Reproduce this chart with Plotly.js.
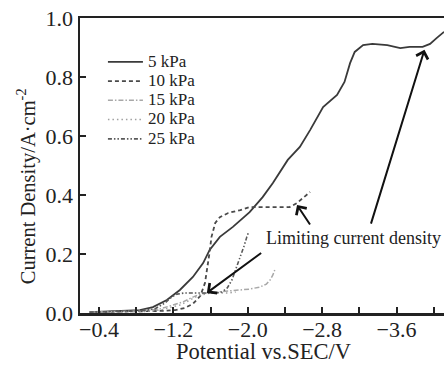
<!DOCTYPE html>
<html>
<head>
<meta charset="utf-8">
<script src="https://cdn.plot.ly/plotly-3.0.1.min.js"></script>
<style>html,body{margin:0;padding:0;background:#fff;}#chart{width:444px;height:365px;}</style>
</head>
<body>
<div id="chart"></div>
<script>
// ---- data ----
const seriesNames = ["5 kPa", "10 kPa", "15 kPa", "20 kPa", "25 kPa"];

const x5 = [-0.30,-0.52,-0.73,-0.84,-0.98,-1.13,-1.27,-1.41,-1.52,-1.59,-1.70,-1.84,-2.02,-2.16,-2.27,-2.43,-2.56,-2.67,-2.81,-2.96,-3.04,-3.10,-3.15,-3.24,-3.34,-3.50,-3.64,-3.74,-3.88,-3.96,-4.03,-4.11];
const y5 = [0.003,0.005,0.007,0.010,0.020,0.044,0.078,0.122,0.169,0.214,0.258,0.292,0.342,0.393,0.441,0.519,0.563,0.620,0.698,0.739,0.783,0.847,0.885,0.908,0.912,0.908,0.898,0.902,0.902,0.912,0.932,0.953];

const x10 = [-0.30,-0.84,-1.06,-1.22,-1.32,-1.41,-1.49,-1.54,-1.57,-1.59,-1.61,-1.65,-1.70,-1.79,-1.92,-2.02,-2.16,-2.31,-2.45,-2.53,-2.59,-2.67];
const y10 = [0.003,0.005,0.007,0.010,0.017,0.031,0.058,0.102,0.159,0.207,0.258,0.305,0.325,0.339,0.349,0.359,0.359,0.359,0.359,0.373,0.390,0.410];

const x15 = [-0.30,-0.84,-1.06,-1.20,-1.30,-1.41,-1.49,-1.56,-1.67,-1.81,-1.92,-2.02,-2.13,-2.20,-2.24,-2.27,-2.29];
const y15 = [0.003,0.007,0.014,0.027,0.037,0.054,0.064,0.068,0.071,0.075,0.078,0.081,0.088,0.098,0.112,0.129,0.146];

const x20 = [-0.30,-0.89,-1.06,-1.16,-1.27,-1.38,-1.46,-1.54,-1.61,-1.70,-1.79,-1.87];
const y20 = [0.003,0.005,0.010,0.017,0.027,0.044,0.058,0.064,0.068,0.068,0.068,0.071];

const x25 = [-0.30,-0.84,-1.00,-1.11,-1.18,-1.24,-1.32,-1.43,-1.56,-1.65,-1.72,-1.78,-1.83,-1.87,-1.92,-1.96,-1.99,-2.01];
const y25 = [0.003,0.007,0.014,0.034,0.054,0.064,0.068,0.068,0.068,0.068,0.071,0.085,0.112,0.146,0.186,0.227,0.258,0.275];

const xTickVals = [-0.4,-1.2,-2.0,-2.8,-3.6];
const xTickText = ["\u22120.4","\u22121.2","\u22122.0","\u22122.8","\u22123.6"];
const xMinorTickVals = [-0.8,-1.6,-2.4,-3.2,-4.0];
const yTickVals = [0.0,0.2,0.4,0.6,0.8,1.0];
const yTickText = ["0.0","0.2","0.4","0.6","0.8","1.0"];

const xTitle = "Potential vs.SEC/V";
const yTitle = "Current Density/A\u00b7cm<sup>-2</sup>";
const annoText = "Limiting current density";
const annoPos = {x: -3.14, y: 0.254};
// arrows: [head x, head y, tail x, tail y]
const arrowHeads = [[-2.53,0.366,-2.68,0.295],[-1.56,0.068,-2.16,0.207],[-3.90,0.892,-3.32,0.298]];

// ---- chart ----
const serif = '"Liberation Serif", "Times New Roman", serif';
const styles = [
  {color:'#3a3a3a', width:1.8, dash:'solid'},
  {color:'#4a4a4a', width:1.8, dash:'4px,3px'},
  {color:'#a8a8a8', width:1.5, dash:'5px,2px,1.5px,2px'},
  {color:'#a0a0a0', width:1.5, dash:'1.5px,3px'},
  {color:'#5a5a5a', width:1.6, dash:'4px,2px,1.5px,2px,1.5px,2px'}
];
const xs = [x5,x10,x15,x20,x25];
const ys = [y5,y10,y15,y20,y25];
const traces = seriesNames.map((n,i)=>({
  type:'scatter', mode:'lines',
  name:'<span style="font-size:17px">' + n + '</span>',
  x:xs[i], y:ys[i],
  line:Object.assign({shape:'linear'}, styles[i])
}));

const annotations = [
  {x: annoPos.x, y: annoPos.y, xref:'x', yref:'y', text: annoText, showarrow:false,
   font:{family:serif, size:18, color:'#222'}},
  {x:0.503, y:-0.131, xref:'paper', yref:'paper', xanchor:'center', yanchor:'middle',
   text:xTitle, showarrow:false, font:{family:serif, size:22.5, color:'#222'}},
  {x:-0.148, y:0.43, xref:'paper', yref:'paper', xanchor:'center', yanchor:'middle', textangle:-90,
   text:yTitle, showarrow:false, font:{family:serif, size:20.5, color:'#222'}}
].concat(arrowHeads.map(a=>({
  x:a[0], y:a[1], ax:a[2], ay:a[3], axref:'x', ayref:'y', xref:'x', yref:'y',
  text:'', showarrow:true, arrowhead:4, arrowsize:1.2, arrowwidth:2, arrowcolor:'#111', standoff:0
})));

const layout = {
  width:444, height:365,
  margin:{l:80, r:0, t:18, b:52},
  paper_bgcolor:'#fff', plot_bgcolor:'#fff',
  font:{family:serif, color:'#222'},
  showlegend:true,
  legend:{x:0.063, y:0.901, xanchor:'left', yanchor:'top', bgcolor:'rgba(0,0,0,0)',
          font:{family:serif, size:12.5, color:'#222'}, tracegroupgap:0, itemwidth:35},
  xaxis:{
    range:[-0.196,-4.11], autorange:false,
    tickmode:'array', tickvals:xTickVals, ticktext:xTickText,
    ticks:'inside', ticklen:6, tickwidth:2, tickcolor:'#222',
    minor:{tickmode:'array', tickvals:xMinorTickVals, ticks:'inside', ticklen:6, tickwidth:2, tickcolor:'#222', showgrid:false},
    showline:true, linewidth:2.5, linecolor:'#222', mirror:true,
    showgrid:false, zeroline:false, ticklabelstandoff:-5,
    tickfont:{family:serif, size:22, color:'#222'}
  },
  yaxis:{
    range:[0,1.0], autorange:false,
    tickmode:'array', tickvals:yTickVals, ticktext:yTickText,
    ticks:'inside', ticklen:6, tickwidth:2, tickcolor:'#222',
    showline:true, linewidth:2.5, linecolor:'#222', mirror:false,
    showgrid:false, zeroline:false,
    tickfont:{family:serif, size:22, color:'#222'}
  },
  annotations: annotations
};

Plotly.newPlot('chart', traces, layout, {staticPlot:true, displayModeBar:false});
</script>
</body>
</html>
